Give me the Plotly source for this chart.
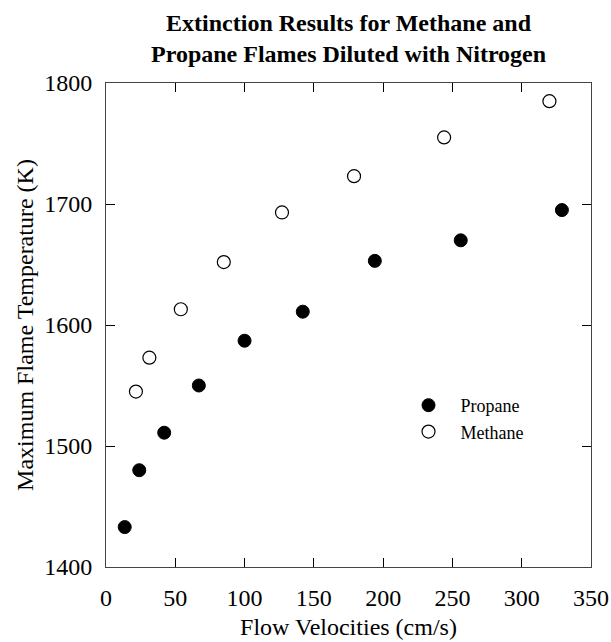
import plotly.graph_objects as go

# Extinction data: flow velocity (cm/s) vs maximum flame temperature (K)
propane_velocity = [13.5, 24, 42, 67, 100, 142, 194, 256, 329]
propane_temperature = [1433, 1480, 1511, 1550, 1587, 1611, 1653, 1670, 1695]

methane_velocity = [21.6, 31.3, 54, 85, 127, 179, 244, 320]
methane_temperature = [1545, 1573, 1613, 1652, 1693, 1723, 1755, 1785]

x_ticks = [0, 50, 100, 150, 200, 250, 300, 350]
y_ticks = [1400, 1500, 1600, 1700, 1800]

serif = "Liberation Serif, Times New Roman, serif"

fig = go.Figure()
fig.add_trace(go.Scatter(
    x=propane_velocity, y=propane_temperature, mode="markers", name="Propane",
    marker=dict(symbol="circle", size=13, color="black", line=dict(color="black", width=1)),
))
fig.add_trace(go.Scatter(
    x=methane_velocity, y=methane_temperature, mode="markers", name="Methane",
    marker=dict(symbol="circle-open", size=13, color="black", line=dict(color="black", width=1.2)),
))

axis_common = dict(
    showgrid=False, zeroline=False, showline=True, linecolor="#444", linewidth=1,
    mirror="ticks", ticks="inside", ticklen=9, tickcolor="black", tickwidth=1,
    tickfont=dict(family=serif, size=24, color="black"), automargin=False,
)

fig.update_layout(
    width=611, height=642,
    margin=dict(l=106, r=20, t=83, b=75),
    paper_bgcolor="white", plot_bgcolor="white",
    xaxis=dict(range=[0, 350], tickvals=x_ticks, ticklabelstandoff=9,
               title=dict(text="Flow Velocities (cm/s)", font=dict(family=serif, size=24, color="black"), standoff=8),
               **axis_common),
    yaxis=dict(range=[1400, 1800], tickvals=y_ticks, ticklabelstandoff=8,
               title=dict(text="Maximum Flame Temperature (K)", font=dict(family=serif, size=24, color="black"), standoff=3),
               **axis_common),
    legend=dict(x=0.599, y=0.372, xanchor="left", yanchor="top", bgcolor="rgba(0,0,0,0)",
                font=dict(family=serif, size=18, color="black"), itemwidth=54, tracegroupgap=0),
    showlegend=True,
    annotations=[dict(
        text="<b>Extinction Results for Methane and<br>Propane Flames Diluted with Nitrogen</b>",
        xref="paper", yref="paper", x=0.5, y=1.155, xanchor="center", yanchor="top",
        showarrow=False, font=dict(family=serif, size=24, color="black"),
    )],
)

fig.write_html("out.html")
